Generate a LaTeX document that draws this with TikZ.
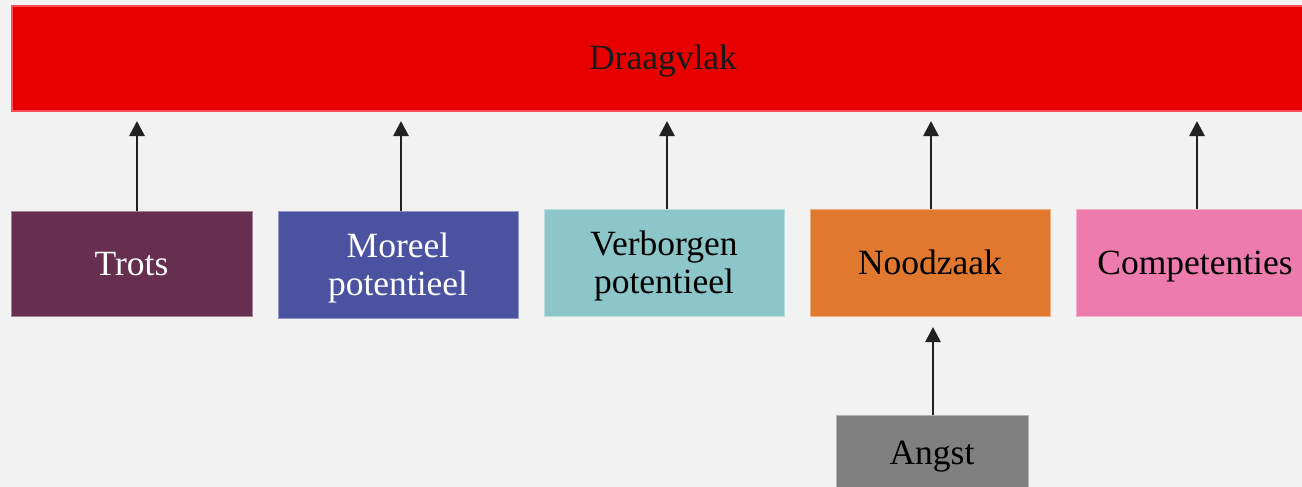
\documentclass[tikz,border=0pt]{standalone}
\usepackage{fontspec}
\setmainfont{Liberation Serif}
\usetikzlibrary{arrows.meta}
\definecolor{bg}{HTML}{F2F2F2}
\definecolor{dvred}{HTML}{E80000}
\definecolor{dvedge}{HTML}{FF4D5A}
\definecolor{cTrots}{HTML}{662E4F}
\definecolor{cMoreel}{HTML}{4B52A0}
\definecolor{cVerb}{HTML}{8CC6C8}
\definecolor{cNood}{HTML}{E07830}
\definecolor{cComp}{HTML}{ED7BAE}
\definecolor{cAngst}{HTML}{808080}
\definecolor{arr}{HTML}{222222}
\tikzset{
  box/.style={rectangle, inner sep=0pt, align=center, font=\fontsize{35.5}{38}\selectfont, line width=1pt, text height=31pt, text depth=8pt},
  twoline/.style={text height=69pt, text depth=8pt},
  conn/.style={draw=arr, line width=2.7pt, -{Triangle[length=15pt,width=15pt]}},
}
\begin{document}
\begin{tikzpicture}[x=1pt,y=-1pt]
\useasboundingbox (0,0) rectangle (1302,487);
\fill[bg] (0,0) rectangle (1302,487);
\clip (0,0) rectangle (1302,487);
\node[box, fill=dvred, draw=dvedge, line width=1.5pt, minimum width=1302pt, minimum height=105pt, text=black!90] (dv) at (663,58.5) {Draagvlak};
\node[box, fill=cTrots, draw=cTrots!60!white, minimum width=241pt, minimum height=105pt, text=white] (trots) at (131.5,263.5) {Trots};
\node[box, twoline, fill=cMoreel, draw=cMoreel!60!white, minimum width=240pt, minimum height=107pt, text=white] (moreel) at (398,264.5) {Moreel\\potentieel};
\node[box, twoline, fill=cVerb, draw=cVerb!60!white, minimum width=240pt, minimum height=107pt, text=black] (verb) at (664,262.5) {Verborgen\\potentieel};
\node[box, fill=cNood, draw=cNood!60!white, minimum width=240pt, minimum height=107pt, text=black] (nood) at (930,262.5) {Noodzaak};
\node[box, fill=cComp, draw=cComp!60!white, minimum width=238pt, minimum height=107pt, text=black] (comp) at (1195,262.5) {Competenties};
\node[box, fill=cAngst, draw=cAngst!60!white, minimum width=192pt, minimum height=76pt, text=black] (angst) at (932,453) {Angst};
\coordinate (t1) at (137,121);
\coordinate (t2) at (401,121);
\coordinate (t3) at (667,121);
\coordinate (t4) at (931,121);
\coordinate (t5) at (1197,121);
\coordinate (t6) at (933,327);
\draw[conn] (trots.north -| t1) -- (t1);
\draw[conn] (moreel.north -| t2) -- (t2);
\draw[conn] (verb.north -| t3) -- (t3);
\draw[conn] (nood.north -| t4) -- (t4);
\draw[conn] (comp.north -| t5) -- (t5);
\draw[conn] (angst.north -| t6) -- (t6);
\end{tikzpicture}
\end{document}
